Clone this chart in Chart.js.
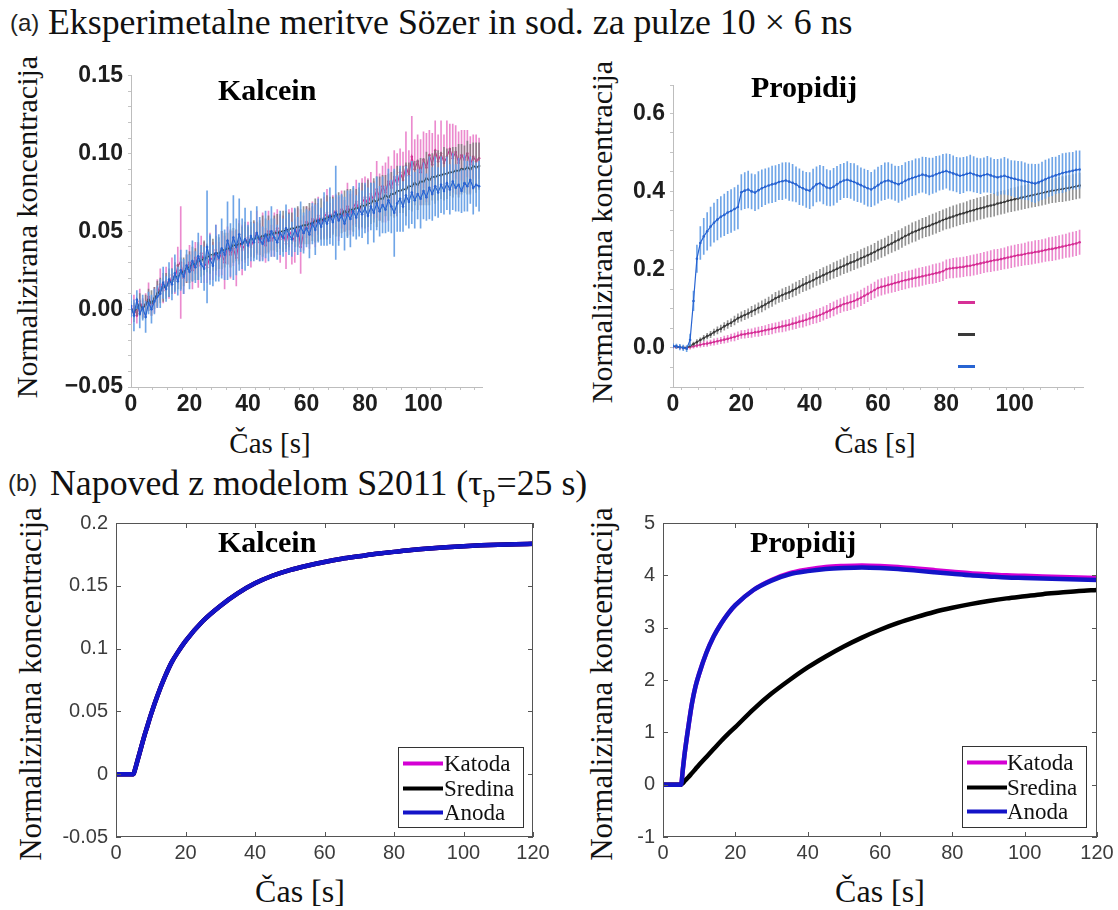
<!DOCTYPE html>
<html>
<head>
<meta charset="utf-8">
<title>Kalcein in propidij</title>
<script src="https://cdn.jsdelivr.net/npm/chart.js@4.4.1/dist/chart.umd.min.js"></script>
<style>
  html, body { margin: 0; padding: 0; background: #fff; }
  #page { position: relative; width: 1118px; height: 910px; overflow: hidden; background: #fff; }
  .t { position: absolute; white-space: nowrap; color: #111; line-height: 1; }
  .serif { font-family: "Liberation Serif", "Times New Roman", serif; }
  .sans { font-family: "Liberation Sans", Arial, sans-serif; }
  .ylab { font-size: 30px; transform: translate(-50%, -50%) rotate(-90deg); }
  .ylab.big { font-size: 31px; }
  .xlab { font-size: 29px; transform: translateX(-50%); }
  .xlab.big { font-size: 32px; }
  .head { font-size: 35.8px; }
  .tag { font-size: 24px; color: #222; }
  .dye { font-size: 30px; font-weight: bold; color: #000; }
  sub { font-size: 0.72em; vertical-align: -0.28em; line-height: 0; margin-right: 1px; }
  canvas { position: absolute; }
</style>
</head>
<body>
<div id="page">
  <div class="t sans tag" style="left:10px; top:11px;">(a)</div>
  <div class="t serif head" style="left:48px; top:5px;">Eksperimetalne meritve Sözer in sod. za pulze 10 × 6 ns</div>
  <div class="t sans tag" style="left:8px; top:471px;">(b)</div>
  <div class="t serif head" style="left:50px; top:466px;">Napoved z modelom S2011 (τ<sub>p</sub>=25 s)</div>

  <div class="t serif ylab" style="left:27px; top:227px;">Normalizirana koncentracija</div>
  <div class="t serif ylab" style="left:602px; top:232px;">Normalizirana koncentracija</div>
  <div class="t serif ylab big" style="left:30px; top:684px;">Normalizirana koncentracija</div>
  <div class="t serif ylab big" style="left:601px; top:684px;">Normalizirana koncentracija</div>

  <div class="t serif xlab" style="left:270px; top:429px;">Čas [s]</div>
  <div class="t serif xlab" style="left:875px; top:429px;">Čas [s]</div>
  <div class="t serif xlab big" style="left:300px; top:875px;">Čas [s]</div>
  <div class="t serif xlab big" style="left:880px; top:875px;">Čas [s]</div>

  <canvas id="cKalExp"></canvas>
  <canvas id="cPropExp"></canvas>
  <canvas id="cKalMod"></canvas>
  <canvas id="cPropMod"></canvas>

  <div class="t serif dye" style="left:218px; top:75px;">Kalcein</div>
  <div class="t serif dye" style="left:751px; top:72px;">Propidij</div>
  <div class="t serif dye" style="left:218px; top:527px;">Kalcein</div>
  <div class="t serif dye" style="left:750px; top:527px;">Propidij</div>
</div>

<script>
// ---- data ----
var seriesNames = ['Katoda', 'Sredina', 'Anoda'];

// measurement times [s]
var timeExp = [0,1,2,3,4,5,6,7,8,9,10,11,12,13,14,15,16,17,18,19,
  20,21,22,23,24,25,26,27,28,29,30,31,32,33,34,35,36,37,38,39,
  40,41,42,43,44,45,46,47,48,49,50,51,52,53,54,55,56,57,58,59,
  60,61,62,63,64,65,66,67,68,69,70,71,72,73,74,75,76,77,78,79,
  80,81,82,83,84,85,86,87,88,89,90,91,92,93,94,95,96,97,98,99,
  100,101,102,103,104,105,106,107,108,109,110,111,112,113,114,115,116,117,118,119];

// (a) Kalcein, measured means and error half-widths, in units of 0.001
var kalceinKatoda = [-3,2,-4,5,1,3,8,2,6,10,
  16,12,18,15,22,19,28,30,20,26,
  30,25,33,28,36,30,27,34,31,38,
  32,36,30,41,35,39,33,44,38,42,
  46,40,45,49,43,47,41,50,44,48,
  52,45,49,42,51,47,44,53,40,49,
  56,52,58,54,60,55,59,62,57,61,
  63,58,64,60,66,61,65,69,63,68,
  72,67,74,70,77,72,79,75,82,78,
  85,80,88,83,92,86,98,90,95,88,
  96,91,99,93,102,95,100,94,98,103,
  97,101,94,99,96,100,93,98,95,97];
var kalceinKatodaErr = [6,7,5,8,6,7,9,6,8,9,
  10,8,9,8,11,9,12,36,10,9,
  11,12,10,14,11,13,10,15,12,16,
  11,14,17,12,15,11,18,13,16,12,
  10,13,11,14,12,15,11,13,10,14,
  12,15,11,16,13,18,14,12,17,11,
  10,13,11,14,12,10,13,15,11,12,
  11,14,12,10,15,13,11,14,12,16,
  13,17,14,12,18,15,13,19,16,14,
  17,20,15,18,22,16,26,19,17,21,
  18,22,16,20,19,17,21,18,23,16,
  22,17,20,16,19,15,18,14,17,13];
var kalceinSredina = [0,-2,1,3,0,3,6,4,7,10,
  12,14,15,17,18,21,21,23,24,26,
  27,29,29,31,31,33,33,35,35,36,
  36,38,38,39,39,41,41,42,42,44,
  43,45,45,46,46,47,47,48,48,49,
  49,50,50,51,51,52,52,53,53,54,
  54,55,55,57,56,58,57,59,59,60,
  60,61,61,63,62,64,64,65,65,67,
  66,68,68,70,69,71,71,73,72,74,
  74,76,76,77,77,79,79,81,80,82,
  82,84,83,85,85,86,86,87,87,88,
  88,89,89,90,90,91,90,92,91,92];
var kalceinSredinaErr = [5,6,5,7,6,6,7,8,7,8,
  8,9,8,9,8,9,8,10,9,9,
  10,11,10,12,10,11,9,12,10,11,
  10,12,11,10,12,11,10,13,11,12,
  10,11,12,10,11,13,11,12,10,11,
  12,11,13,12,11,10,12,13,11,12,
  12,13,11,14,12,13,12,14,13,12,
  13,14,12,13,15,13,14,12,13,14,
  14,15,13,14,16,14,15,13,15,14,
  15,16,14,15,17,15,16,14,16,15,
  15,17,16,15,17,16,15,17,16,15,
  16,15,17,16,15,17,16,15,16,15];
var kalceinAnoda = [2,-4,6,-3,1,-5,4,0,5,8,
  10,17,13,19,16,23,18,25,21,28,
  24,31,27,34,29,26,40,32,28,36,
  33,39,35,44,38,46,40,48,42,45,
  41,47,43,49,45,42,48,44,50,46,
  43,49,46,52,48,45,51,47,53,49,
  52,48,55,51,57,53,58,55,60,56,
  62,57,60,55,61,58,63,59,64,61,
  65,60,66,62,68,63,67,64,70,66,
  62,68,71,66,73,69,75,70,74,71,
  76,72,78,74,79,75,80,76,81,77,
  82,78,80,76,81,79,83,78,80,79];
var kalceinAnodaErr = [7,10,6,9,8,10,7,9,8,7,
  9,10,8,11,10,12,9,13,11,10,
  11,13,10,15,12,14,36,16,13,18,
  15,19,16,25,17,27,18,23,16,20,
  13,16,12,17,14,11,15,13,16,12,
  11,14,12,15,13,11,14,12,16,13,
  12,15,13,16,14,12,17,14,18,15,
  30,16,14,17,15,18,16,14,17,15,
  16,18,15,19,17,16,18,15,20,17,
  28,18,21,16,19,17,20,18,16,19,
  18,15,20,17,19,16,18,15,17,16,
  18,15,17,14,18,16,15,17,14,16];

// (a) Propidij, measured means and error half-widths, in units of 0.001
var propidijKatoda = [3,2,1,0,0,2,4,6,8,10,
  11,13,15,17,19,21,23,26,28,31,
  34,35,37,38,40,41,43,45,47,49,
  51,53,55,57,59,62,64,67,69,72,
  75,78,81,84,88,92,96,100,104,108,
  112,114,117,120,124,128,133,138,143,148,
  153,156,158,161,163,166,168,171,173,175,
  177,179,181,183,185,187,189,191,193,196,
  201,203,204,205,206,207,209,210,212,214,
  216,218,220,222,224,225,227,229,231,233,
  235,237,238,240,242,243,245,246,248,250,
  252,253,255,257,259,261,263,265,267,270];
var propidijKatodaErr = [4,4,4,4,4,5,5,6,6,7,
  7,7,8,8,8,9,9,9,10,10,
  10,10,11,11,11,12,12,12,13,13,
  13,13,14,14,14,15,15,15,16,16,
  16,16,17,17,17,17,18,18,18,18,
  18,19,19,19,19,20,20,20,20,20,
  21,21,21,21,21,22,22,22,22,22,
  22,23,23,23,23,23,24,24,24,24,
  24,24,25,25,25,25,25,26,26,26,
  26,26,26,27,27,27,27,27,28,28,
  28,28,28,28,29,29,29,29,29,29,
  30,30,30,30,30,30,31,31,31,31];
var propidijSredina = [4,3,2,1,0,5,10,15,20,25,
  30,34,40,45,49,55,60,64,70,76,
  80,84,88,93,97,102,106,111,116,121,
  127,131,135,139,142,147,151,156,161,165,
  169,173,178,182,186,190,194,198,202,206,
  210,214,218,221,225,229,233,237,241,245,
  250,254,258,263,267,272,276,281,286,290,
  295,298,302,306,309,312,316,319,323,327,
  330,333,336,339,342,344,347,350,352,355,
  357,359,362,364,366,369,371,373,376,378,
  380,382,384,386,388,390,392,394,396,398,
  400,402,403,405,406,408,409,411,413,415];
var propidijSredinaErr = [4,4,4,4,4,5,5,6,6,7,
  7,8,8,9,9,10,10,10,11,11,
  12,12,12,13,13,13,14,14,14,15,
  15,15,16,16,16,17,17,17,17,18,
  18,18,18,19,19,19,19,20,20,20,
  20,21,21,21,21,22,22,22,22,22,
  23,23,23,23,23,24,24,24,24,24,
  25,25,25,25,25,26,26,26,26,26,
  26,27,27,27,27,27,27,28,28,28,
  28,28,28,29,29,29,29,29,29,30,
  30,30,30,30,30,30,31,31,31,31,
  31,31,31,31,32,32,32,32,32,32];
var propidijAnoda = [5,4,2,0,-2,20,120,228,268,285,
  298,310,320,328,335,340,346,350,355,360,
  398,402,405,400,397,403,408,412,415,418,
  420,424,426,428,425,422,418,412,408,404,
  402,410,418,421,416,410,408,412,418,424,
  428,430,427,424,420,416,412,408,405,410,
  416,422,426,428,425,421,418,422,427,431,
  434,437,440,443,441,438,440,444,447,450,
  452,449,446,443,440,442,445,447,444,441,
  439,442,444,441,438,436,438,440,437,434,
  432,430,428,426,424,422,420,423,427,431,
  435,438,441,444,447,449,451,453,455,456];
var propidijAnodaErr = [6,6,7,7,8,15,25,35,42,46,
  48,50,50,52,52,53,54,55,55,56,
  45,46,47,45,46,48,47,46,45,47,
  46,45,47,46,48,47,45,46,44,45,
  46,47,45,46,48,46,45,47,46,45,
  44,46,45,47,46,44,45,46,44,45,
  46,45,47,46,45,44,46,45,47,46,
  45,46,44,45,46,47,45,46,44,45,
  44,46,45,44,46,45,44,46,45,44,
  45,44,46,45,44,46,45,47,46,45,
  46,47,48,47,46,48,49,47,48,49,
  48,49,47,48,50,49,48,47,49,48];

// (b) model S2011, time [s] and predicted concentrations
var timeModel = [0,5,5.5,6,7,8,9,10,12,14,16,18,20,25,30,35,40,45,50,55,60,65,70,75,80,85,90,95,100,105,110,115,120];
var kalceinModel = [0,0,0.004,0.009,0.019,0.029,0.038,0.047,0.063,0.077,0.089,0.098,0.106,0.122,0.134,0.144,0.152,0.158,0.1625,0.166,0.169,0.1715,0.1735,0.1755,0.177,0.1785,0.1797,0.1807,0.1815,0.1822,0.1827,0.1831,0.1834];
var propidijModelKatoda = [0,0,0.3,0.6,1.1,1.55,1.88,2.12,2.52,2.83,3.07,3.27,3.43,3.72,3.91,4.04,4.11,4.16,4.18,4.19,4.18,4.16,4.13,4.10,4.07,4.04,4.02,4.00,3.99,3.98,3.97,3.96,3.95];
var propidijModelSredina = [0,0,0.03,0.07,0.14,0.22,0.30,0.38,0.53,0.68,0.83,0.97,1.10,1.44,1.74,2.00,2.24,2.45,2.64,2.81,2.96,3.09,3.20,3.30,3.38,3.45,3.51,3.56,3.60,3.64,3.67,3.70,3.72];
var propidijModelAnoda = [0,0,0.3,0.6,1.1,1.55,1.88,2.12,2.52,2.83,3.07,3.27,3.43,3.72,3.90,4.02,4.08,4.12,4.14,4.15,4.14,4.12,4.09,4.06,4.03,4.00,3.98,3.96,3.95,3.94,3.93,3.92,3.91];

// ---- styles ----
var expLine = ['rgb(214,48,150)', '#3a3a3a', 'rgb(40,100,210)'];
var expBar = ['rgba(232,118,198,0.85)', 'rgba(120,120,120,0.8)', 'rgba(95,155,228,0.9)'];
var modelColors = ['#d400d4', '#000000', '#1414c8'];

Chart.defaults.font.family = '"Liberation Sans", Arial, sans-serif';
Chart.defaults.animation = false;

var PAD = { l: 72, t: 14, r: 28, b: 42 };
var areas = {
  kalExp:  { left: 131, top: 71,  right: 482,  bottom: 387 },
  propExp: { left: 673, top: 81,  right: 1083, bottom: 387 },
  kalMod:  { left: 116, top: 517, right: 533,  bottom: 837 },
  propMod: { left: 663, top: 517, right: 1097, bottom: 837 }
};

function makeCanvas(id, a) {
  var c = document.getElementById(id);
  c.width = a.right - a.left + PAD.l + PAD.r;
  c.height = a.bottom - a.top + PAD.t + PAD.b;
  c.style.width = c.width + 'px';
  c.style.height = c.height + 'px';
  c.style.left = (a.left - PAD.l) + 'px';
  c.style.top = (a.top - PAD.t) + 'px';
  return c;
}

// draws the closed axes box with inward ticks
var matlabBox = {
  id: 'matlabBox',
  afterDatasetsDraw: function(chart, args, opts) {
    var ctx = chart.ctx, a = chart.chartArea, x = chart.scales.x, y = chart.scales.y;
    ctx.save();
    ctx.strokeStyle = opts.color;
    ctx.lineWidth = 1;
    ctx.strokeRect(Math.round(a.left) + 0.5, Math.round(a.top) + 0.5,
      Math.round(a.right - a.left) - 1, Math.round(a.bottom - a.top) - 1);
    ctx.beginPath();
    x.ticks.forEach(function(t) {
      var px = Math.round(x.getPixelForValue(t.value)) + 0.5;
      ctx.moveTo(px, a.bottom); ctx.lineTo(px, a.bottom - opts.len);
      ctx.moveTo(px, a.top); ctx.lineTo(px, a.top + opts.len);
    });
    y.ticks.forEach(function(t) {
      var py = Math.round(y.getPixelForValue(t.value)) + 0.5;
      ctx.moveTo(a.left, py); ctx.lineTo(a.left + opts.len, py);
      ctx.moveTo(a.right, py); ctx.lineTo(a.right - opts.len, py);
    });
    ctx.stroke();
    ctx.restore();
  }
};

// legend with line samples, placed inside the plot area
var lineLegend = {
  id: 'lineLegend',
  afterDatasetsDraw: function(chart, args, o) {
    var ctx = chart.ctx, a = chart.chartArea;
    var x0 = a.right - o.right - o.width;
    var y0 = a.bottom - o.bottom - o.height;
    ctx.save();
    if (o.box) {
      ctx.fillStyle = '#fff';
      ctx.fillRect(x0, y0, o.width, o.height);
      ctx.strokeStyle = '#333';
      ctx.lineWidth = 1;
      ctx.strokeRect(Math.round(x0) + 0.5, Math.round(y0) + 0.5, o.width, o.height);
    }
    o.items.forEach(function(it, i) {
      var y = Math.round(y0 + o.firstRow + i * o.rowGap) + 0.5;
      ctx.strokeStyle = it.color;
      ctx.lineWidth = o.lineWidth;
      ctx.beginPath();
      ctx.moveTo(x0 + o.lineStart, y);
      ctx.lineTo(x0 + o.lineStart + o.lineLength, y);
      ctx.stroke();
      if (it.label) {
        ctx.fillStyle = '#111';
        ctx.font = o.font;
        ctx.textBaseline = 'middle';
        ctx.fillText(it.label, x0 + o.textStart, y + 1);
      }
    });
    ctx.restore();
  }
};

function expDatasets(means, errs) {
  var sets = [];
  means.forEach(function(m, i) {
    var e = errs[i];
    sets.push({
      type: 'bar',
      data: timeExp.map(function(t, k) { return { x: t, y: [(m[k] - e[k]) / 1000, (m[k] + e[k]) / 1000] }; }),
      backgroundColor: expBar[i],
      borderWidth: 0,
      barThickness: 1,
      grouped: false,
      order: 6 - 2 * i
    });
    sets.push({
      type: 'line',
      data: timeExp.map(function(t, k) { return { x: t, y: m[k] / 1000 }; }),
      borderColor: expLine[i],
      borderWidth: 1.2,
      pointRadius: 1.3,
      pointBorderWidth: 0,
      pointBackgroundColor: expLine[i],
      order: 5 - 2 * i
    });
  });
  return sets;
}

function expOptions(yMin, yMax, yStep, labelEvery, decimals, legend) {
  var tickFont = { size: 23, weight: 'bold' };
  return {
    responsive: false,
    events: [],
    layout: { padding: { top: PAD.t, right: PAD.r, left: 0, bottom: 0 } },
    plugins: { legend: { display: false }, tooltip: { enabled: false }, lineLegend: legend },
    scales: {
      x: {
        type: 'linear', min: 0, max: 120, offset: false,
        ticks: { stepSize: 5, autoSkip: false, maxRotation: 0, padding: 1, color: '#1e1e1e', font: tickFont,
          callback: function(v) { return (v % 20 === 0 && v < 120) ? String(v) : ''; } },
        grid: { drawOnChartArea: false, tickLength: 3, color: '#c4c4c4' },
        border: { color: '#bdbdbd', dash: [2, 2] },
        afterFit: function(s) { s.height = PAD.b; }
      },
      y: {
        min: yMin, max: yMax,
        ticks: { stepSize: yStep, autoSkip: false, padding: 5, color: '#1e1e1e', font: tickFont,
          callback: function(v) {
            var h = Math.round(v * 100);
            if (h % labelEvery !== 0) return '';
            return (h < 0 ? '\u2212' : '') + Math.abs(h / 100).toFixed(decimals);
          } },
        grid: { drawOnChartArea: false, tickLength: 3, color: '#c4c4c4' },
        border: { color: '#bdbdbd', dash: [2, 2] },
        afterFit: function(s) { s.width = PAD.l; }
      }
    }
  };
}

function modelDatasets(series) {
  return series.map(function(vals, i) {
    return {
      label: seriesNames[i],
      data: timeModel.map(function(t, k) { return { x: t, y: vals[k] }; }),
      borderColor: modelColors[i],
      borderWidth: 4.5,
      pointRadius: 0,
      cubicInterpolationMode: 'monotone',
      order: 3 - i
    };
  });
}

function modelOptions(yMin, yMax, yStep, legend) {
  var tickFont = { size: 20 };
  return {
    responsive: false,
    events: [],
    layout: { padding: { top: PAD.t, right: PAD.r, left: 0, bottom: 0 } },
    plugins: { legend: { display: false }, tooltip: { enabled: false },
      matlabBox: { color: '#555', len: 5 }, lineLegend: legend },
    scales: {
      x: {
        type: 'linear', min: 0, max: 120,
        ticks: { stepSize: 20, padding: 4, maxRotation: 0, color: '#3c3c3c', font: tickFont },
        grid: { display: false, drawTicks: false },
        border: { display: false },
        afterFit: function(s) { s.height = PAD.b; }
      },
      y: {
        min: yMin, max: yMax,
        ticks: { stepSize: yStep, padding: 8, color: '#3c3c3c', font: tickFont,
          callback: function(v) { return String(parseFloat(v.toFixed(2))); } },
        grid: { display: false, drawTicks: false },
        border: { display: false },
        afterFit: function(s) { s.width = PAD.l; }
      }
    }
  };
}

var legendItems = seriesNames.map(function(n, i) { return { label: n, color: modelColors[i] }; });
var dashItems = seriesNames.map(function(n, i) { return { label: '', color: expLine[i] }; });
var boxLegend = { box: true, width: 125, height: 80, right: 10, bottom: 10, firstRow: 16, rowGap: 24.5,
  lineStart: 5, lineLength: 40, lineWidth: 4, textStart: 46, font: '23px "Liberation Serif", serif', items: legendItems };

new Chart(makeCanvas('cKalExp', areas.kalExp), {
  type: 'line',
  data: { datasets: expDatasets([kalceinKatoda, kalceinSredina, kalceinAnoda],
                                [kalceinKatodaErr, kalceinSredinaErr, kalceinAnodaErr]) },
  options: expOptions(-0.05, 0.15, 0.01, 5, 2, { items: [] }),
  plugins: [lineLegend]
});

new Chart(makeCanvas('cPropExp', areas.propExp), {
  type: 'line',
  data: { datasets: expDatasets([propidijKatoda, propidijSredina, propidijAnoda],
                                [propidijKatodaErr, propidijSredinaErr, propidijAnodaErr]) },
  options: expOptions(-0.1, 0.67, 0.05, 20, 1,
    { box: false, width: 17, height: 80, right: 108, bottom: 5, firstRow: 0, rowGap: 32,
      lineStart: 0, lineLength: 17, lineWidth: 3, textStart: 0, font: '', items: dashItems }),
  plugins: [lineLegend]
});

new Chart(makeCanvas('cKalMod', areas.kalMod), {
  type: 'line',
  data: { datasets: modelDatasets([kalceinModel, kalceinModel, kalceinModel]) },
  options: modelOptions(-0.05, 0.2, 0.05, boxLegend),
  plugins: [matlabBox, lineLegend]
});

new Chart(makeCanvas('cPropMod', areas.propMod), {
  type: 'line',
  data: { datasets: modelDatasets([propidijModelKatoda, propidijModelSredina, propidijModelAnoda]) },
  options: modelOptions(-1, 5, 1, Object.assign({}, boxLegend, { width: 124, height: 81, right: 11, textStart: 45 })),
  plugins: [matlabBox, lineLegend]
});
</script>
</body>
</html>
